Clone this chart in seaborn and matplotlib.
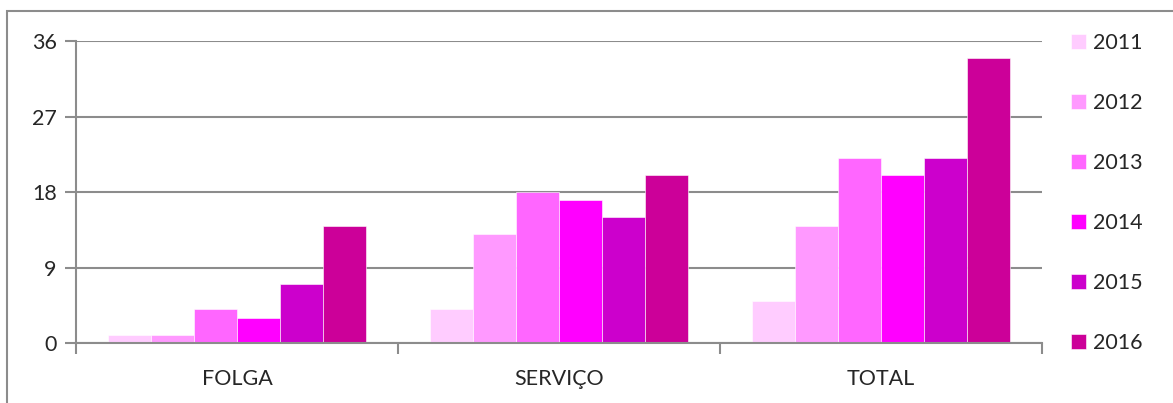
import numpy as np
import pandas as pd
import seaborn as sns
import matplotlib.pyplot as plt
from matplotlib.patches import Rectangle

# data
categories = ["FOLGA", "SERVIÇO", "TOTAL"]
years = ["2011", "2012", "2013", "2014", "2015", "2016"]
v2011 = [1, 4, 5]
v2012 = [1, 13, 14]
v2013 = [4, 18, 22]
v2014 = [3, 17, 20]
v2015 = [7, 15, 22]
v2016 = [14, 20, 34]
yticks = [0, 9, 18, 27, 36]

cols = ["#FFCCFF", "#FF99FF", "#FF66FF", "#FF00FF", "#CC00CC", "#CC0099"]

series = [v2011, v2012, v2013, v2014, v2015, v2016]
df = pd.DataFrame(
    [(c, y, v) for y, vals in zip(years, series) for c, v in zip(categories, vals)],
    columns=["categoria", "ano", "valor"],
)

sns.set_style("white")
plt.rcParams["font.family"] = ["Lato", "DejaVu Sans"]
fs = 15.5

fig = plt.figure(figsize=(11.73, 4.03), dpi=100)
ax = fig.add_axes([76 / 1173, 1 - 343 / 403, (1042 - 76) / 1173, (343 - 41) / 403])

sns.barplot(data=df, x="categoria", y="valor", hue="ano", palette=cols,
            saturation=1, width=0.8, edgecolor="white", linewidth=0.4,
            ax=ax, legend=True)

grid_col = "#8c8c8c"
ax.set_ylim(0, 36)
ax.set_xlim(-0.5, 2.5)
ax.set_yticks(yticks)
ax.set_yticklabels(yticks, fontsize=fs)
ax.yaxis.grid(True, color=grid_col, lw=1.5)
ax.set_axisbelow(True)
ax.tick_params(axis="y", length=8, width=1.5, color=grid_col, pad=6, left=True)
ax.set_xticks(range(3))
ax.set_xticklabels(categories, fontsize=fs)
ax.set_xticks([-0.5, 0.5, 1.5, 2.5], minor=True)
ax.tick_params(axis="x", which="major", length=0, pad=19)
ax.tick_params(axis="x", which="minor", length=8, width=1.5, color=grid_col, bottom=True)
ax.set_xlabel("")
ax.set_ylabel("")
sns.despine(ax=ax, top=True, right=True)
for side in ["left", "bottom"]:
    ax.spines[side].set_color(grid_col)
    ax.spines[side].set_linewidth(1.5)

handles, labels = ax.get_legend_handles_labels()
ax.legend_.remove()
fig.legend(handles, labels, loc="upper left", bbox_to_anchor=(1062 / 1173, 1 - 24 / 403),
           frameon=False, fontsize=fs, handlelength=0.7, handleheight=0.7,
           handletextpad=0.35, labelspacing=1.86, borderaxespad=0)

# outer chart frame
fig.patches.append(Rectangle((7 / 1173, -0.1), 1.2, 1.1 - 11 / 403,
                             transform=fig.transFigure, fill=False,
                             edgecolor=grid_col, lw=1.5))

plt.savefig("out.png", dpi=100)
